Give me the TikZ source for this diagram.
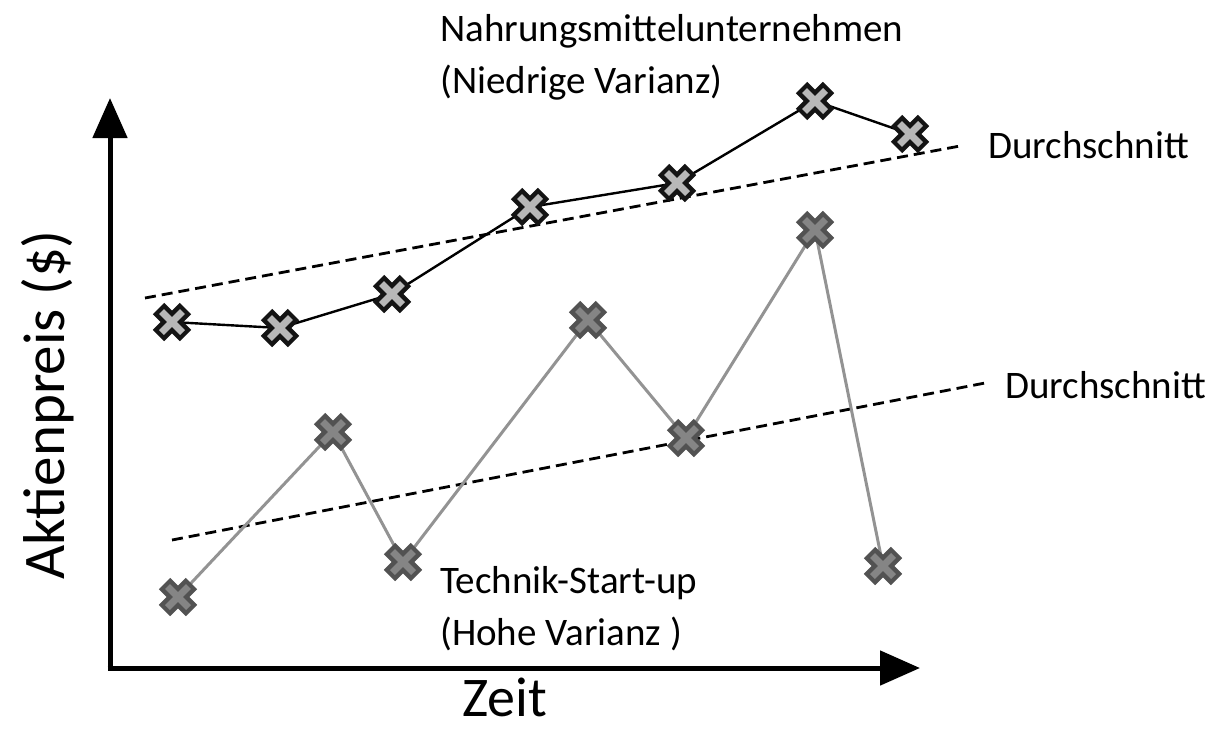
\documentclass[tikz,border=0pt]{standalone}
\usepackage{fontspec}
\setmainfont{Carlito}
\usetikzlibrary{arrows.meta}
\begin{document}
\begin{tikzpicture}[x=1pt,y=-1pt,
  axis/.style={line width=5pt,-{Triangle[length=40pt,width=34pt]}},
  trend/.style={line width=2.8pt,dash pattern=on 11pt off 6pt},
  foodline/.style={line width=2.4pt,black},
  techline/.style={line width=3pt,color=gray!85},
  lbl/.style={font=\fontsize{39}{52}\selectfont,align=left,inner sep=0pt},
  xmark/.pic={
    \draw[line width=16pt,\outc] (-13.5,-13.5) -- (13.5,13.5) (-13.5,13.5) -- (13.5,-13.5);
    \draw[line width=7pt,\fillc] (-10.5,-10.5) -- (10.5,10.5) (-10.5,10.5) -- (10.5,-10.5);
  }]
\useasboundingbox (0,0) rectangle (1214,732);

% axes
\coordinate (origin) at (110,668);
\coordinate (ytip) at (110,98);
\coordinate (xtip) at (920,668);
\draw[axis] ([yshift=2.5pt]origin) -- (ytip);
\draw[axis] ([xshift=-2.5pt]origin) -- (xtip);
\node[font=\fontsize{56}{66}\selectfont,anchor=base,inner sep=0pt] (xlab) at (505,716) {Zeit};
\node[font=\fontsize{59}{70}\selectfont,rotate=90] (ylab) at (48,405) {Aktienpreis (\$)};

% food company
\coordinate (a1) at (172,322);
\coordinate (a2) at (280,328);
\coordinate (a3) at (392,294);
\coordinate (a4) at (530,207);
\coordinate (a5) at (677,183);
\coordinate (a6) at (815,101);
\coordinate (a7) at (910,134);
% tech start-up
\coordinate (b1) at (178,597);
\coordinate (b2) at (333,432);
\coordinate (b3) at (403,562);
\coordinate (b4) at (588,320);
\coordinate (b5) at (686,438);
\coordinate (b6) at (815,230);
\coordinate (b7) at (883,566);

% averages
\coordinate (ta0) at (145,298);
\coordinate (ta1) at (960,146);
\coordinate (tb0) at (172,540);
\coordinate (tb1) at (985,383);
\draw[trend] (ta0) -- (ta1);
\draw[trend] (tb0) -- (tb1);

\draw[foodline] (a1) -- (a2) -- (a3) -- (a4) -- (a5) -- (a6) -- (a7);
\draw[techline] (b1) -- (b2) -- (b3) -- (b4) -- (b5) -- (b6) -- (b7);

\def\outc{black!92}\def\fillc{black!28}
\foreach \p in {a1,a2,a3,a4,a5,a6,a7} \pic at (\p) {xmark};
\def\outc{black!68}\def\fillc{black!48}
\foreach \p in {b1,b2,b3,b4,b5,b6,b7} \pic at (\p) {xmark};

% labels (base anchor sits on the last line)
\node[lbl,anchor=base west] (food) at (440,93) {Nahrungsmittelunternehmen\\(Niedrige Varianz)};
\node[lbl,anchor=base west] (avga) at (988,158) {Durchschnitt};
\node[lbl,anchor=base west] (avgb) at (1005,398) {Durchschnitt};
\node[lbl,anchor=base west] (tech) at (440,645) {Technik-Start-up\\(Hohe Varianz )};
\end{tikzpicture}
\end{document}
